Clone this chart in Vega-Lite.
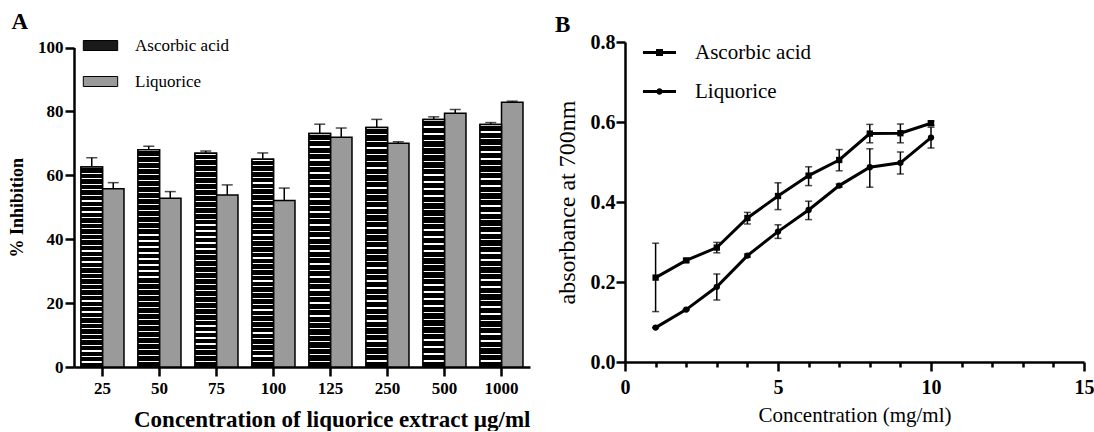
{
  "$schema": "https://vega.github.io/schema/vega-lite/v6.json",
  "padding": {"left": 8, "top": 11, "right": 0, "bottom": 0},
  "background": "white",
  "resolve": {"scale": {"fill": "independent", "shape": "independent"}, "legend": {"fill": "independent", "shape": "independent"}},
  "config": {
    "view": {"stroke": null},
    "font": "Liberation Serif",
    "concat": {"spacing": 25},
    "axis": {"domainColor": "black", "tickColor": "black", "labelColor": "black", "titleColor": "black", "grid": false, "domainWidth": 2.5, "tickWidth": 2.5, "labelFont": "Liberation Serif", "titleFont": "Liberation Serif"},
    "legend": {"labelColor": "black", "labelFont": "Liberation Serif"},
    "title": {"color": "black", "font": "Liberation Serif"}
  },
  "hconcat": [
    {
      "width": 456,
      "height": 325,
      "title": {"text": "A", "anchor": "start", "frame": "bounds", "font": "Liberation Serif", "fontSize": 23, "fontWeight": "bold", "offset": -3, "dx": 3, "dy": -4},
      "data": {"values": [
        {"conc": "25", "series": "Ascorbic acid", "value": 62.6, "hi": 65.5},
        {"conc": "25", "series": "Liquorice", "value": 55.8, "hi": 57.7},
        {"conc": "50", "series": "Ascorbic acid", "value": 68.0, "hi": 69.1},
        {"conc": "50", "series": "Liquorice", "value": 52.8, "hi": 54.9},
        {"conc": "75", "series": "Ascorbic acid", "value": 66.9, "hi": 67.6},
        {"conc": "75", "series": "Liquorice", "value": 53.8, "hi": 57.0},
        {"conc": "100", "series": "Ascorbic acid", "value": 65.0, "hi": 67.0},
        {"conc": "100", "series": "Liquorice", "value": 52.1, "hi": 56.0},
        {"conc": "125", "series": "Ascorbic acid", "value": 73.1, "hi": 76.0},
        {"conc": "125", "series": "Liquorice", "value": 71.9, "hi": 74.8},
        {"conc": "250", "series": "Ascorbic acid", "value": 75.0, "hi": 77.5},
        {"conc": "250", "series": "Liquorice", "value": 70.0, "hi": 70.5},
        {"conc": "500", "series": "Ascorbic acid", "value": 77.5, "hi": 78.3},
        {"conc": "500", "series": "Liquorice", "value": 79.4, "hi": 80.6},
        {"conc": "1000", "series": "Ascorbic acid", "value": 75.9, "hi": 76.5},
        {"conc": "1000", "series": "Liquorice", "value": 82.9, "hi": 83.2}
      ]},
      "encoding": {
        "x": {
          "field": "conc", "type": "ordinal",
          "sort": ["25", "50", "75", "100", "125", "250", "500", "1000"],
          "scale": {"paddingInner": 0.246, "paddingOuter": 0.123},
          "axis": {"labelAngle": 0, "labelFont": "Liberation Serif", "labelFontSize": 17, "labelFontWeight": "bold", "tickSize": 9, "labelPadding": 4,
                   "title": "Concentration of liquorice extract µg/ml", "titleFont": "Liberation Serif", "titleFontSize": 23, "titleFontWeight": "bold", "titleAnchor": "end", "titlePadding": 12}
        },
        "xOffset": {"field": "series", "type": "nominal", "sort": ["Ascorbic acid", "Liquorice"]}
      },
      "layer": [
        {
          "mark": {"type": "bar", "stroke": "black", "strokeWidth": 1.5},
          "encoding": {
            "y": {"field": "value", "type": "quantitative", "title": "% Inhibition",
                  "scale": {"domain": [0, 100], "range": [325, 5.5]},
                  "axis": {"values": [0, 20, 40, 60, 80, 100], "labelFont": "Liberation Serif", "labelFontSize": 17, "labelFontWeight": "bold", "tickSize": 9, "labelPadding": 2,
                           "titleFont": "Liberation Serif", "titleFontSize": 18, "titleFontWeight": "bold", "titlePadding": 11}},
            "fill": {
              "field": "series", "type": "nominal",
              "scale": {"domain": ["Ascorbic acid", "Liquorice"], "range": ["#1a1a1a", "#9a9a9a"]},
              "legend": {"orient": "none", "legendX": 16, "legendY": -7, "title": null, "padding": 0,
                         "symbolType": "M-1.72,-0.5H1.72V0.5H-1.72Z", "symbolSize": 400, "symbolStrokeColor": "black", "symbolStrokeWidth": 1,
                         "labelFont": "Liberation Serif", "labelFontSize": 17, "labelOffset": 24, "rowPadding": 17}
            }
          }
        },
        {
          "transform": [{"filter": "datum.series === 'Ascorbic acid'"}],
          "mark": {"type": "bar", "stroke": "black", "strokeWidth": 1.5,
            "fill": {"gradient": "linear", "x1": 0, "y1": 0, "x2": 0, "y2": 1, "stops": [
              {"offset": 0, "color": "#ffffff"}, {"offset": 0.006, "color": "#ffffff"}, {"offset": 0.006, "color": "#000000"}, {"offset": 0.0278, "color": "#000000"},
              {"offset": 0.0278, "color": "#ffffff"}, {"offset": 0.0338, "color": "#ffffff"}, {"offset": 0.0338, "color": "#000000"}, {"offset": 0.0556, "color": "#000000"},
              {"offset": 0.0556, "color": "#ffffff"}, {"offset": 0.0616, "color": "#ffffff"}, {"offset": 0.0616, "color": "#000000"}, {"offset": 0.0833, "color": "#000000"},
              {"offset": 0.0833, "color": "#ffffff"}, {"offset": 0.0893, "color": "#ffffff"}, {"offset": 0.0893, "color": "#000000"}, {"offset": 0.1111, "color": "#000000"},
              {"offset": 0.1111, "color": "#ffffff"}, {"offset": 0.1171, "color": "#ffffff"}, {"offset": 0.1171, "color": "#000000"}, {"offset": 0.1389, "color": "#000000"},
              {"offset": 0.1389, "color": "#ffffff"}, {"offset": 0.1449, "color": "#ffffff"}, {"offset": 0.1449, "color": "#000000"}, {"offset": 0.1667, "color": "#000000"},
              {"offset": 0.1667, "color": "#ffffff"}, {"offset": 0.1727, "color": "#ffffff"}, {"offset": 0.1727, "color": "#000000"}, {"offset": 0.1944, "color": "#000000"},
              {"offset": 0.1944, "color": "#ffffff"}, {"offset": 0.2004, "color": "#ffffff"}, {"offset": 0.2004, "color": "#000000"}, {"offset": 0.2222, "color": "#000000"},
              {"offset": 0.2222, "color": "#ffffff"}, {"offset": 0.2282, "color": "#ffffff"}, {"offset": 0.2282, "color": "#000000"}, {"offset": 0.25, "color": "#000000"},
              {"offset": 0.25, "color": "#ffffff"}, {"offset": 0.256, "color": "#ffffff"}, {"offset": 0.256, "color": "#000000"}, {"offset": 0.2778, "color": "#000000"},
              {"offset": 0.2778, "color": "#ffffff"}, {"offset": 0.2838, "color": "#ffffff"}, {"offset": 0.2838, "color": "#000000"}, {"offset": 0.3056, "color": "#000000"},
              {"offset": 0.3056, "color": "#ffffff"}, {"offset": 0.3116, "color": "#ffffff"}, {"offset": 0.3116, "color": "#000000"}, {"offset": 0.3333, "color": "#000000"},
              {"offset": 0.3333, "color": "#ffffff"}, {"offset": 0.3393, "color": "#ffffff"}, {"offset": 0.3393, "color": "#000000"}, {"offset": 0.3611, "color": "#000000"},
              {"offset": 0.3611, "color": "#ffffff"}, {"offset": 0.3671, "color": "#ffffff"}, {"offset": 0.3671, "color": "#000000"}, {"offset": 0.3889, "color": "#000000"},
              {"offset": 0.3889, "color": "#ffffff"}, {"offset": 0.3949, "color": "#ffffff"}, {"offset": 0.3949, "color": "#000000"}, {"offset": 0.4167, "color": "#000000"},
              {"offset": 0.4167, "color": "#ffffff"}, {"offset": 0.4227, "color": "#ffffff"}, {"offset": 0.4227, "color": "#000000"}, {"offset": 0.4444, "color": "#000000"},
              {"offset": 0.4444, "color": "#ffffff"}, {"offset": 0.4504, "color": "#ffffff"}, {"offset": 0.4504, "color": "#000000"}, {"offset": 0.4722, "color": "#000000"},
              {"offset": 0.4722, "color": "#ffffff"}, {"offset": 0.4782, "color": "#ffffff"}, {"offset": 0.4782, "color": "#000000"}, {"offset": 0.5, "color": "#000000"},
              {"offset": 0.5, "color": "#ffffff"}, {"offset": 0.506, "color": "#ffffff"}, {"offset": 0.506, "color": "#000000"}, {"offset": 0.5278, "color": "#000000"},
              {"offset": 0.5278, "color": "#ffffff"}, {"offset": 0.5338, "color": "#ffffff"}, {"offset": 0.5338, "color": "#000000"}, {"offset": 0.5556, "color": "#000000"},
              {"offset": 0.5556, "color": "#ffffff"}, {"offset": 0.5616, "color": "#ffffff"}, {"offset": 0.5616, "color": "#000000"}, {"offset": 0.5833, "color": "#000000"},
              {"offset": 0.5833, "color": "#ffffff"}, {"offset": 0.5893, "color": "#ffffff"}, {"offset": 0.5893, "color": "#000000"}, {"offset": 0.6111, "color": "#000000"},
              {"offset": 0.6111, "color": "#ffffff"}, {"offset": 0.6171, "color": "#ffffff"}, {"offset": 0.6171, "color": "#000000"}, {"offset": 0.6389, "color": "#000000"},
              {"offset": 0.6389, "color": "#ffffff"}, {"offset": 0.6449, "color": "#ffffff"}, {"offset": 0.6449, "color": "#000000"}, {"offset": 0.6667, "color": "#000000"},
              {"offset": 0.6667, "color": "#ffffff"}, {"offset": 0.6727, "color": "#ffffff"}, {"offset": 0.6727, "color": "#000000"}, {"offset": 0.6944, "color": "#000000"},
              {"offset": 0.6944, "color": "#ffffff"}, {"offset": 0.7004, "color": "#ffffff"}, {"offset": 0.7004, "color": "#000000"}, {"offset": 0.7222, "color": "#000000"},
              {"offset": 0.7222, "color": "#ffffff"}, {"offset": 0.7282, "color": "#ffffff"}, {"offset": 0.7282, "color": "#000000"}, {"offset": 0.75, "color": "#000000"},
              {"offset": 0.75, "color": "#ffffff"}, {"offset": 0.756, "color": "#ffffff"}, {"offset": 0.756, "color": "#000000"}, {"offset": 0.7778, "color": "#000000"},
              {"offset": 0.7778, "color": "#ffffff"}, {"offset": 0.7838, "color": "#ffffff"}, {"offset": 0.7838, "color": "#000000"}, {"offset": 0.8056, "color": "#000000"},
              {"offset": 0.8056, "color": "#ffffff"}, {"offset": 0.8116, "color": "#ffffff"}, {"offset": 0.8116, "color": "#000000"}, {"offset": 0.8333, "color": "#000000"},
              {"offset": 0.8333, "color": "#ffffff"}, {"offset": 0.8393, "color": "#ffffff"}, {"offset": 0.8393, "color": "#000000"}, {"offset": 0.8611, "color": "#000000"},
              {"offset": 0.8611, "color": "#ffffff"}, {"offset": 0.8671, "color": "#ffffff"}, {"offset": 0.8671, "color": "#000000"}, {"offset": 0.8889, "color": "#000000"},
              {"offset": 0.8889, "color": "#ffffff"}, {"offset": 0.8949, "color": "#ffffff"}, {"offset": 0.8949, "color": "#000000"}, {"offset": 0.9167, "color": "#000000"},
              {"offset": 0.9167, "color": "#ffffff"}, {"offset": 0.9227, "color": "#ffffff"}, {"offset": 0.9227, "color": "#000000"}, {"offset": 0.9444, "color": "#000000"},
              {"offset": 0.9444, "color": "#ffffff"}, {"offset": 0.9504, "color": "#ffffff"}, {"offset": 0.9504, "color": "#000000"}, {"offset": 0.9722, "color": "#000000"},
              {"offset": 0.9722, "color": "#ffffff"}, {"offset": 0.9782, "color": "#ffffff"}, {"offset": 0.9782, "color": "#000000"}, {"offset": 1, "color": "#000000"}
            ]}},
          "encoding": {
            "y": {"field": "value", "type": "quantitative", "title": "% Inhibition"}
          }
        },
        {
          "mark": {"type": "rule", "color": "black", "strokeWidth": 1.5},
          "encoding": {
            "y": {"field": "value", "type": "quantitative", "title": "% Inhibition"},
            "y2": {"field": "hi"}
          }
        },
        {
          "mark": {"type": "tick", "orient": "horizontal", "color": "black", "size": 11, "thickness": 1.5},
          "encoding": {
            "y": {"field": "hi", "type": "quantitative", "title": "% Inhibition"}
          }
        }
      ]
    },
    {
      "width": 459,
      "height": 320,
      "title": {"text": "B", "anchor": "start", "frame": "bounds", "font": "Liberation Serif", "fontSize": 23, "fontWeight": "bold", "offset": -3, "dy": 2},
      "data": {"values": [
        {"conc": 1, "series": "Ascorbic acid", "value": 0.211, "lo": 0.126, "hi": 0.297},
        {"conc": 2, "series": "Ascorbic acid", "value": 0.254, "lo": 0.250, "hi": 0.258},
        {"conc": 3, "series": "Ascorbic acid", "value": 0.286, "lo": 0.273, "hi": 0.299},
        {"conc": 4, "series": "Ascorbic acid", "value": 0.360, "lo": 0.345, "hi": 0.374},
        {"conc": 5, "series": "Ascorbic acid", "value": 0.415, "lo": 0.381, "hi": 0.448},
        {"conc": 6, "series": "Ascorbic acid", "value": 0.466, "lo": 0.441, "hi": 0.488},
        {"conc": 7, "series": "Ascorbic acid", "value": 0.505, "lo": 0.478, "hi": 0.531},
        {"conc": 8, "series": "Ascorbic acid", "value": 0.571, "lo": 0.548, "hi": 0.594},
        {"conc": 9, "series": "Ascorbic acid", "value": 0.572, "lo": 0.548, "hi": 0.595},
        {"conc": 10, "series": "Ascorbic acid", "value": 0.597, "lo": 0.592, "hi": 0.602},
        {"conc": 1, "series": "Liquorice", "value": 0.086, "lo": 0.086, "hi": 0.086},
        {"conc": 2, "series": "Liquorice", "value": 0.131, "lo": 0.131, "hi": 0.131},
        {"conc": 3, "series": "Liquorice", "value": 0.188, "lo": 0.155, "hi": 0.220},
        {"conc": 4, "series": "Liquorice", "value": 0.266, "lo": 0.262, "hi": 0.270},
        {"conc": 5, "series": "Liquorice", "value": 0.326, "lo": 0.309, "hi": 0.343},
        {"conc": 6, "series": "Liquorice", "value": 0.380, "lo": 0.356, "hi": 0.402},
        {"conc": 7, "series": "Liquorice", "value": 0.441, "lo": 0.437, "hi": 0.445},
        {"conc": 8, "series": "Liquorice", "value": 0.487, "lo": 0.437, "hi": 0.533},
        {"conc": 9, "series": "Liquorice", "value": 0.498, "lo": 0.470, "hi": 0.525},
        {"conc": 10, "series": "Liquorice", "value": 0.561, "lo": 0.535, "hi": 0.587}
      ]},
      "encoding": {
        "x": {
          "field": "conc", "type": "quantitative", "title": "Concentration (mg/ml)",
          "scale": {"domain": [0, 15], "nice": false},
          "axis": {"values": [0, 1, 2, 3, 4, 5, 6, 7, 8, 9, 10, 11, 12, 13, 14, 15],
                   "labelExpr": "datum.value % 5 === 0 ? datum.label : ''",
                   "tickSize": {"condition": {"test": "datum.value % 5 === 0", "value": 9}, "value": 5},
                   "labelFont": "Liberation Serif", "labelFontSize": 20, "labelFontWeight": "bold", "labelPadding": 6, "labelOverlap": false, "labelFlush": false,
                   "titleFont": "Liberation Serif", "titleFontSize": 21, "titleFontWeight": "normal", "titlePadding": 7}
        }
      },
      "layer": [
        {
          "mark": {"type": "line", "color": "black", "strokeWidth": 3},
          "encoding": {
            "y": {"field": "value", "type": "quantitative", "title": "absorbance at 700nm",
                  "scale": {"domain": [0, 0.8], "nice": false},
                  "axis": {"values": [0, 0.1, 0.2, 0.3, 0.4, 0.5, 0.6, 0.7, 0.8],
                           "labelExpr": "round(datum.value * 10) % 2 === 0 ? format(datum.value, '.1f') : ''",
                           "tickSize": {"condition": {"test": "round(datum.value * 10) % 2 === 0", "value": 9}, "value": 5},
                           "labelFont": "Liberation Serif", "labelFontSize": 20, "labelFontWeight": "bold", "labelPadding": 1, "labelOverlap": false, "labelFlush": false,
                           "titleFont": "Liberation Serif", "titleFontSize": 24, "titleFontWeight": "normal", "titlePadding": 11}},
            "detail": {"field": "series", "type": "nominal"}
          }
        },
        {
          "mark": {"type": "rule", "color": "black", "strokeWidth": 1.5},
          "encoding": {
            "y": {"field": "lo", "type": "quantitative", "title": "absorbance at 700nm"},
            "y2": {"field": "hi"}
          }
        },
        {
          "mark": {"type": "tick", "orient": "horizontal", "color": "black", "size": 7, "thickness": 1.5},
          "encoding": {"y": {"field": "lo", "type": "quantitative", "title": "absorbance at 700nm"}}
        },
        {
          "mark": {"type": "tick", "orient": "horizontal", "color": "black", "size": 7, "thickness": 1.5},
          "encoding": {"y": {"field": "hi", "type": "quantitative", "title": "absorbance at 700nm"}}
        },
        {
          "transform": [{"filter": "datum.series === 'Ascorbic acid'"}],
          "mark": {"type": "point", "filled": true, "color": "black", "opacity": 1, "size": 40, "shape": "square"},
          "encoding": {
            "y": {"field": "value", "type": "quantitative", "title": "absorbance at 700nm"}
          }
        },
        {
          "transform": [{"filter": "datum.series === 'Liquorice'"}],
          "mark": {"type": "point", "filled": true, "color": "black", "opacity": 1, "size": 40, "shape": "circle"},
          "encoding": {
            "y": {"field": "value", "type": "quantitative", "title": "absorbance at 700nm"}
          }
        },
        {
          "mark": {"type": "point", "filled": true, "color": "black", "size": 0},
          "encoding": {
            "y": {"field": "value", "type": "quantitative", "title": "absorbance at 700nm"},
            "shape": {
              "field": "series", "type": "nominal",
              "scale": {"domain": ["Ascorbic acid", "Liquorice"], "range": [
                "M-1.65,-0.15H1.65V0.15H-1.65Z M-0.35,-0.35H0.35V0.35H-0.35Z",
                "M-1.65,-0.15H1.65V0.15H-1.65Z M0.32,0A0.32,0.32 0 1,1 -0.32,0A0.32,0.32 0 1,1 0.32,0Z"
              ]},
              "legend": {"orient": "none", "legendX": 24, "legendY": 0, "title": null, "padding": 0,
                         "symbolSize": 400, "symbolFillColor": "black", "symbolStrokeColor": "black", "symbolStrokeWidth": 0, "symbolOpacity": 1,
                         "labelFont": "Liberation Serif", "labelFontSize": 21, "labelOffset": 25, "rowPadding": 17}
            }
          }
        }
      ]
    }
  ]
}
